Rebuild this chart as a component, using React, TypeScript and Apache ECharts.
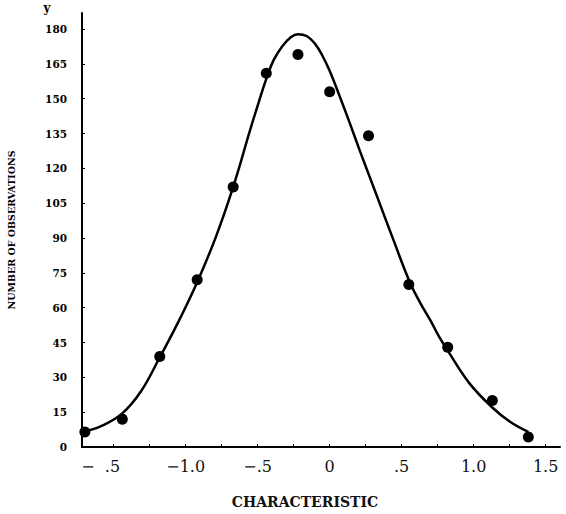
import React, { useEffect, useRef } from "react";
import * as echarts from "echarts";

// Fitted curve
const curveX = [-1.71, -1.58, -1.44, -1.31, -1.185, -1.05, -0.92, -0.79, -0.67, -0.55, -0.49, -0.44, -0.39, -0.33, -0.27, -0.22, -0.16, -0.1, -0.05, 0.0, 0.07, 0.14, 0.21, 0.28, 0.35, 0.45, 0.56, 0.63, 0.7, 0.76, 0.82, 0.97, 1.13, 1.25, 1.38];
const curveY = [6.5, 9.2, 14.5, 24, 38, 54, 71, 90.5, 112, 137, 149, 158.5, 166.5, 172.5, 176.5, 177.8, 177, 173.5, 168.5, 162, 151, 139.5, 127.5, 116, 104.5, 88, 70.5, 62, 54.5, 47.5, 41.5, 27.5, 17, 11, 6.5];

// Observed points
const pointX = [-1.70, -1.44, -1.18, -0.92, -0.67, -0.44, -0.22, 0.0, 0.27, 0.55, 0.82, 1.13, 1.38];
const pointY = [6.5, 12, 39, 72, 112, 161, 169, 153, 134, 70, 43, 20, 4.3];

// Axis labels
const xLabelValues = [-1.5, -1.0, -0.5, 0, 0.5, 1.0, 1.5];
const xLabelTexts = ["−  .5", "−1.0", "−.5", "0", ".5", "1.0", "1.5"];
const xTickValues = [-1.5, -1.25, -1.0, -0.75, -0.5, -0.25, 0, 0.25, 0.5, 0.75, 1.0, 1.25, 1.5];
const yLabelValues = [0, 15, 30, 45, 60, 75, 90, 105, 120, 135, 150, 165, 180];

const xTitle = "CHARACTERISTIC";
const yTitle = "NUMBER OF OBSERVATIONS";
const yMark = "y";

export default function App() {
  const ref = useRef<HTMLDivElement>(null);
  useEffect(() => {
    const chart = echarts.init(ref.current!, null, { renderer: "svg" });
    const serif = "DejaVu Serif";
    chart.setOption({
      animation: false,
      backgroundColor: "#ffffff",
      grid: { left: 82, right: 6, top: 13, bottom: 67, containLabel: false },
      xAxis: {
        type: "value",
        min: -1.72,
        max: 1.6,
        splitLine: { show: false },
        axisLine: { show: true, onZero: false, lineStyle: { color: "#000", width: 2 } },
        axisTick: {
          show: true,
          inside: true,
          length: 3,
          customValues: xTickValues,
          lineStyle: { color: "#000", width: 1 },
        },
        axisLabel: {
          customValues: xLabelValues,
          margin: 11,
          color: "#111",
          fontFamily: serif,
          fontSize: 16,
          formatter: (val: number) => {
            const i = xLabelValues.findIndex((v) => Math.abs(v - val) < 1e-6);
            const t = i >= 0 ? xLabelTexts[i] : "";
            return i === 0 ? "{first|" + t + "}" : t;
          },
          rich: {
            first: {
              fontFamily: serif,
              fontSize: 16,
              color: "#111",
              padding: [0, 26, 0, 0],
            },
          },
        },
      },
      yAxis: {
        type: "value",
        min: 0,
        max: 186.9,
        splitLine: { show: false },
        axisLine: { show: true, onZero: false, lineStyle: { color: "#000", width: 2 } },
        axisTick: {
          show: true,
          inside: true,
          length: 3,
          customValues: yLabelValues,
          lineStyle: { color: "#000", width: 1 },
        },
        axisLabel: {
          customValues: yLabelValues,
          margin: 15,
          color: "#000",
          fontFamily: serif,
          fontWeight: "bold",
          fontSize: 10.5,
        },
      },
      graphic: [
        {
          type: "text",
          x: 47,
          y: 8,
          style: {
            text: yMark,
            fontFamily: serif,
            fontWeight: "bold",
            fontSize: 12,
            fill: "#000",
            align: "center",
            verticalAlign: "middle",
          },
        },
        {
          type: "text",
          x: 11,
          y: 230,
          rotation: Math.PI / 2,
          style: {
            text: yTitle,
            fontFamily: serif,
            fontWeight: "bold",
            fontSize: 9.5,
            fill: "#000",
            align: "center",
            verticalAlign: "middle",
          },
        },
        {
          type: "text",
          x: 305,
          y: 502,
          style: {
            text: xTitle,
            fontFamily: serif,
            fontWeight: "bold",
            fontSize: 14,
            fill: "#111",
            align: "center",
            verticalAlign: "middle",
          },
        },
      ],
      series: [
        {
          type: "line",
          data: curveX.map((x, i) => [x, curveY[i]]),
          smooth: 0.4,
          symbol: "none",
          lineStyle: { color: "#000", width: 2.5 },
          z: 2,
        },
        {
          type: "scatter",
          data: pointX.map((x, i) => [x, pointY[i]]),
          symbol: "circle",
          symbolSize: 11,
          itemStyle: { color: "#000", opacity: 1 },
          z: 3,
        },
      ],
    });
    return () => chart.dispose();
  }, []);
  return (
    <div
      ref={ref}
      style={{ position: "fixed", left: 0, top: 0, width: 566, height: 514, background: "#fff" }}
    />
  );
}
